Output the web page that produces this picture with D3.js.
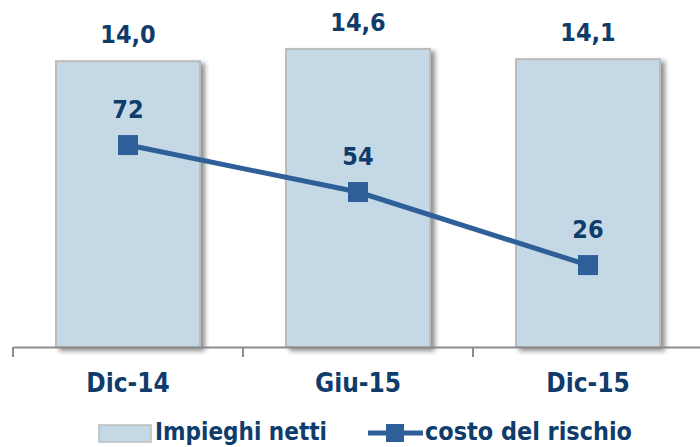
<!DOCTYPE html>
<html><head><meta charset="utf-8">
<script src="https://cdn.jsdelivr.net/npm/d3@7/dist/d3.min.js"></script>
<style>body{margin:0;background:#fff}svg{display:block}</style>
</head><body>
<svg id="c" width="700" height="447"></svg>
<script>
const categories = ["Dic-14", "Giu-15", "Dic-15"];
const impieghiNetti = [14.0, 14.6, 14.1];
const costoRischio = [72, 54, 26];
const barLabels = ["14,0", "14,6", "14,1"];
const seriesNames = ["Impieghi netti", "costo del rischio"];

const svg = d3.select("#c");
const font = "'DejaVu Sans Condensed','DejaVu Sans',sans-serif";
const navy = "#0f3c6b", lineCol = "#2f5f98";
const fs = 25;
const x = d3.scaleBand().domain(categories).range([13, 703]).paddingInner(0.374).paddingOuter(0.187);
const y = d3.scaleLinear().domain([0, 17]).range([347, 0]);
const y2 = d3.scaleLinear().domain([-5.4, 127.6]).range([347, 0]);

const defs = svg.append("defs");
const f = defs.append("filter").attr("id","sh").attr("x","-20%").attr("y","-20%").attr("width","150%").attr("height","150%");
f.append("feGaussianBlur").attr("in","SourceAlpha").attr("stdDeviation",2.5);
f.append("feOffset").attr("dx",4).attr("dy",3).attr("result","b");
f.append("feComponentTransfer").append("feFuncA").attr("type","linear").attr("slope",0.45);
const m = f.append("feMerge"); m.append("feMergeNode"); m.append("feMergeNode").attr("in","SourceGraphic");

svg.append("g").selectAll("rect").data(impieghiNetti).join("rect")
  .attr("x",(d,i)=>x(categories[i])).attr("width",x.bandwidth())
  .attr("y",d=>y(d)).attr("height",d=>y(0)-y(d))
  .attr("fill","#c5d8e6").attr("stroke","#bcbcbc").attr("stroke-width",2).attr("filter","url(#sh)");

// axis
const ax = svg.append("g").attr("transform","translate(0,347)")
  .call(d3.axisBottom(x).tickSize(0).tickFormat(""));
ax.select(".domain").attr("stroke","#8c8c8c").attr("stroke-width",2);
svg.append("g").selectAll("line").data([0,1,2]).join("line")
  .attr("x1",i=>x(categories[i])-x.step()*x.paddingOuter()).attr("x2",i=>x(categories[i])-x.step()*x.paddingOuter())
  .attr("y1",347).attr("y2",357).attr("stroke","#8c8c8c").attr("stroke-width",2);
svg.append("g").selectAll("text").data(categories).join("text")
  .attr("x",d=>x(d)+x.bandwidth()/2).attr("y",392).attr("text-anchor","middle")
  .attr("font-family",font).attr("font-weight","bold").attr("font-size",fs+1).attr("fill",navy).text(d=>d);

// bar labels
svg.append("g").selectAll("text").data(impieghiNetti).join("text")
  .attr("x",(d,i)=>x(categories[i])+x.bandwidth()/2).attr("y",d=>y(d)-18).attr("text-anchor","middle")
  .attr("font-family",font).attr("font-weight","bold").attr("font-size",fs).attr("fill",navy).text((d,i)=>barLabels[i]);

// line
const cx = i=>x(categories[i])+x.bandwidth()/2;
svg.append("path").datum(costoRischio)
  .attr("d",d3.line().x((d,i)=>cx(i)).y(d=>y2(d)))
  .attr("fill","none").attr("stroke",lineCol).attr("stroke-width",5);
svg.append("g").selectAll("rect").data(costoRischio).join("rect")
  .attr("x",(d,i)=>cx(i)-10).attr("y",d=>y2(d)-10).attr("width",20).attr("height",20).attr("fill",lineCol);
svg.append("g").selectAll("text").data(costoRischio).join("text")
  .attr("x",(d,i)=>cx(i)).attr("y",d=>y2(d)-27).attr("text-anchor","middle")
  .attr("font-family",font).attr("font-weight","bold").attr("font-size",fs).attr("fill",navy).text(d=>d);

// legend
const lg = svg.append("g");
lg.append("rect").attr("x",99).attr("y",425).attr("width",52).attr("height",17).attr("fill","#c5d8e6").attr("stroke","#bcbcbc").attr("stroke-width",1.5);
lg.append("text").attr("x",155).attr("y",440).attr("font-family",font).attr("font-weight","bold").attr("font-size",24).attr("fill",navy)
  .attr("textLength",172).attr("lengthAdjust","spacingAndGlyphs").text(seriesNames[0]);
lg.append("line").attr("x1",368).attr("x2",423).attr("y1",433).attr("y2",433).attr("stroke",lineCol).attr("stroke-width",5);
lg.append("rect").attr("x",386).attr("y",424).attr("width",18).attr("height",18).attr("fill",lineCol);
lg.append("text").attr("x",425).attr("y",440).attr("font-family",font).attr("font-weight","bold").attr("font-size",24).attr("fill",navy)
  .attr("textLength",207).attr("lengthAdjust","spacingAndGlyphs").text(seriesNames[1]);
</script>
</body></html>
